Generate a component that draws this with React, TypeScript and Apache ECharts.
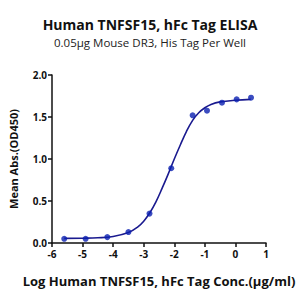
import React, { useEffect, useRef } from "react";
import * as echarts from "echarts";

const titleText = "Human TNFSF15, hFc Tag ELISA";
const subtitleText = "0.05μg Mouse DR3, His Tag Per Well";
const xAxisName = "Log Human TNFSF15, hFc Tag Conc.(μg/ml)";
const yAxisName = "Mean Abs.(OD450)";

const pointX = [-5.6, -4.9, -4.19, -3.5, -2.81, -2.1, -1.4, -0.93, -0.44, 0.04, 0.51];
const pointY = [0.05, 0.05, 0.07, 0.13, 0.35, 0.89, 1.52, 1.575, 1.67, 1.71, 1.73];

const curveX = [-5.6, -5.0, -4.5, -4.0, -3.5, -3.2, -3.0, -2.8, -2.6, -2.4, -2.2, -2.0, -1.8, -1.6, -1.4, -1.2, -1.0, -0.8, -0.5, 0.0, 0.5];
const curveY = [0.055, 0.057, 0.062, 0.078, 0.125, 0.19, 0.26, 0.36, 0.49, 0.65, 0.82, 1.0, 1.17, 1.33, 1.46, 1.55, 1.61, 1.65, 1.68, 1.70, 1.71];

const xTicks = [-6, -5, -4, -3, -2, -1, 0, 1];
const yTicks = [0, 0.5, 1, 1.5, 2];

export default function App() {
  const ref = useRef<HTMLDivElement>(null);
  useEffect(() => {
    if (!ref.current) return;
    const chart = echarts.init(ref.current, null, { renderer: "svg" });
    const font = "'Open Sans', 'Noto Sans', sans-serif";
    chart.setOption({
      animation: false,
      backgroundColor: "#ffffff",
      textStyle: { fontFamily: font },
      title: [
        {
          text: titleText,
          left: "center",
          top: 12,
          textStyle: { fontSize: 14, fontWeight: "bold", color: "#111", fontFamily: font },
        },
        {
          text: subtitleText,
          left: "center",
          top: 31,
          textStyle: { fontSize: 11.5, fontWeight: "normal", color: "#222", fontFamily: font },
        },
      ],
      grid: { left: 51, right: 34, top: 75, bottom: 57, containLabel: false },
      xAxis: {
        type: "value",
        min: xTicks[0],
        max: xTicks[xTicks.length - 1],
        interval: 1,
        name: xAxisName,
        nameLocation: "middle",
        nameGap: 31,
        nameTextStyle: { fontSize: 13, fontWeight: "bold", color: "#111", fontFamily: font },
        axisLine: { onZero: false, lineStyle: { color: "#111", width: 1.5 } },
        axisTick: { show: true, length: 4, lineStyle: { color: "#111", width: 1.5 } },
        axisLabel: { fontSize: 10, fontWeight: "bold", color: "#111", margin: 6, fontFamily: font },
        splitLine: { show: false },
      },
      yAxis: {
        type: "value",
        min: yTicks[0],
        max: yTicks[yTicks.length - 1],
        interval: 0.5,
        name: yAxisName,
        nameLocation: "middle",
        nameGap: 33,
        nameTextStyle: { fontSize: 11, fontWeight: "bold", color: "#111", fontFamily: font },
        axisLine: { show: true, onZero: false, lineStyle: { color: "#111", width: 1.5 } },
        axisTick: { show: true, length: 4, lineStyle: { color: "#111", width: 1.5 } },
        axisLabel: {
          fontSize: 10,
          fontWeight: "bold",
          color: "#111",
          margin: 5,
          fontFamily: font,
          formatter: (v: number) => v.toFixed(1),
        },
        splitLine: { show: false },
      },
      series: [
        {
          type: "line",
          data: curveX.map((x, i) => [x, curveY[i]]),
          smooth: 0.4,
          showSymbol: false,
          lineStyle: { color: "#1a1a8f", width: 1.6 },
          z: 2,
        },
        {
          type: "scatter",
          data: pointX.map((x, i) => [x, pointY[i]]),
          symbol: "circle",
          symbolSize: 6,
          itemStyle: { color: "#0a1fb0" },
          z: 3,
        },
      ],
    });
    return () => chart.dispose();
  }, []);
  return (
    <div
      ref={ref}
      style={{ position: "absolute", left: 0, top: 0, width: 300, height: 300 }}
    />
  );
}
